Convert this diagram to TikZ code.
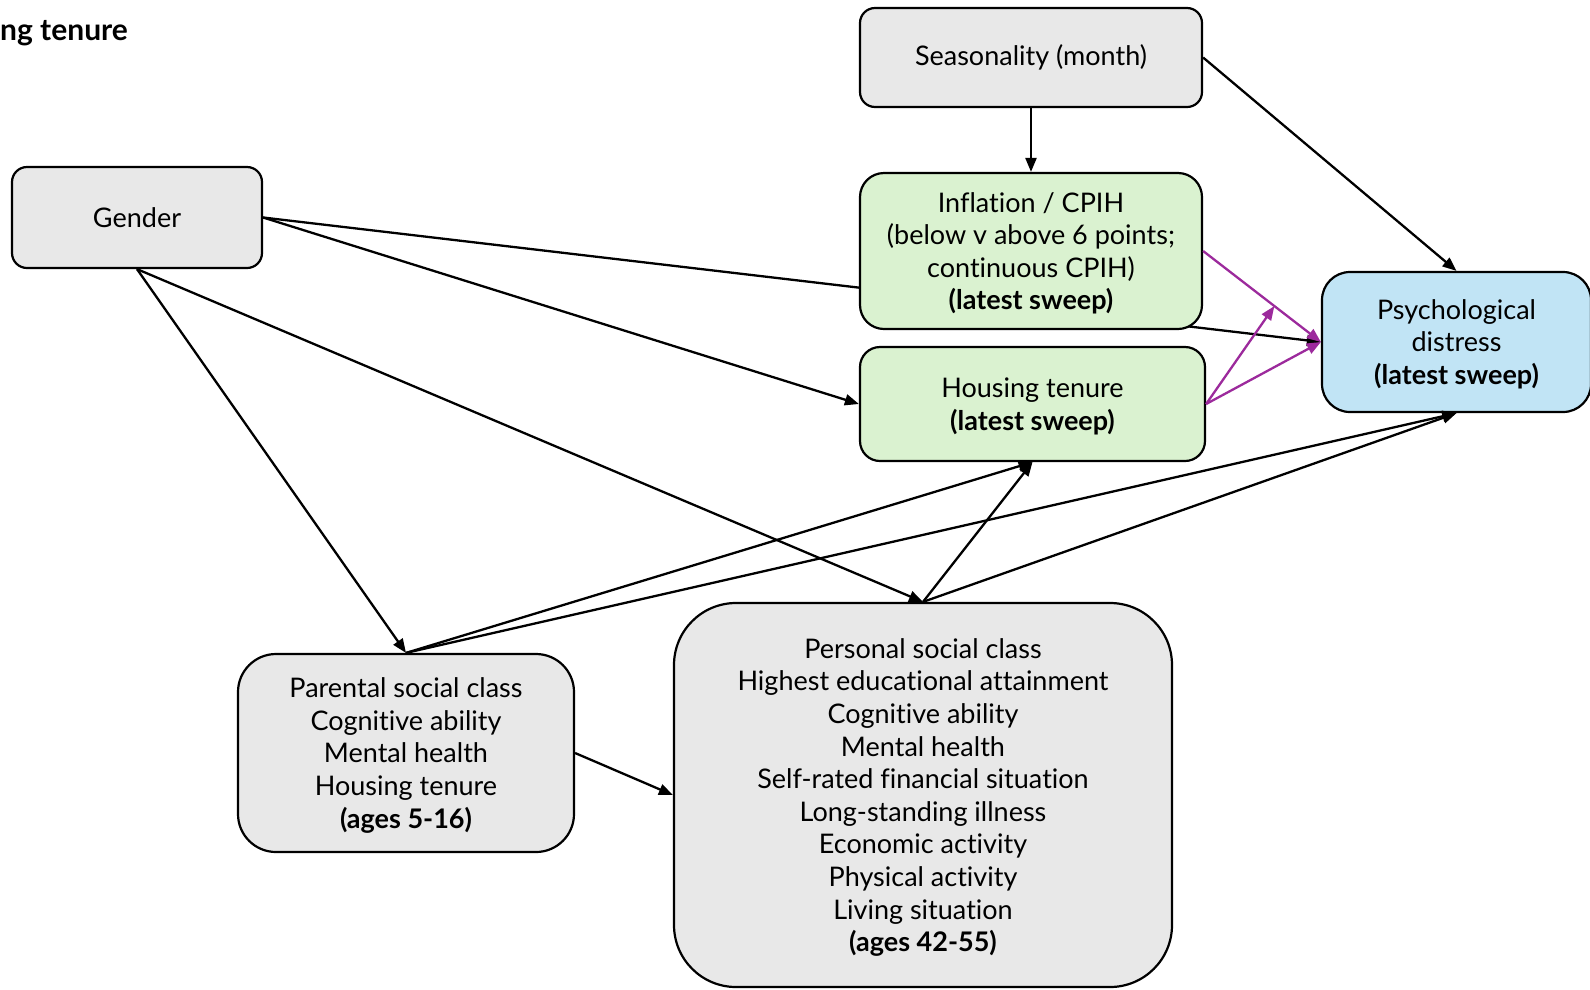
\documentclass[tikz,border=0pt]{standalone}
\usepackage{fontspec}
\setmainfont{Lato}[RawFeature={-liga}]
\usetikzlibrary{arrows.meta,calc,backgrounds}
\definecolor{boxgray}{HTML}{E8E8E8}
\definecolor{boxgreen}{HTML}{DAF2D0}
\definecolor{boxblue}{HTML}{C1E4F5}
\definecolor{modpurple}{HTML}{9C2A9C}
\begin{document}
\begin{tikzpicture}[x=1pt,y=-1pt,
  box/.style={draw=black, line width=2.2pt, align=center, inner sep=0pt,
    font=\fontsize{27}{32.6}\selectfont},
  multibox/.style={box, text depth=0pt},
  conn/.style={line width=2.3pt, -{Triangle[length=14pt,width=11pt]}},
  modconn/.style={line width=2.3pt, draw=modpurple, -{Triangle[length=14pt,width=11pt]}, modpurple}
]
\useasboundingbox (0,0) rectangle (1590,989);
\node[anchor=base west, inner sep=0pt, font=\fontsize{30}{34}\selectfont\bfseries] (title) at (0,40) {ng tenure};

\node[box, fill=boxgray, minimum width=342pt, minimum height=99pt, rounded corners=15pt] (season) at (1031,57.5) {Seasonality (month)};
\node[box, fill=boxgray, minimum width=250pt, minimum height=101pt, rounded corners=15pt] (gender) at (137,217.5) {Gender};
\node[multibox, fill=boxgreen, minimum width=342pt, minimum height=156pt, rounded corners=24pt] (infl) at (1031,251) {Inflation / CPIH\\(below v above 6 points;\\continuous CPIH)\\\textbf{(latest sweep)}};
\node[multibox, fill=boxgreen, minimum width=345pt, minimum height=114pt, rounded corners=20pt] (housing) at (1032.5,404) {Housing tenure\\\textbf{(latest sweep)}};
\node[multibox, fill=boxblue, minimum width=269pt, minimum height=140pt, rounded corners=28pt] (psych) at (1456.5,342) {Psychological\\distress\\\textbf{(latest sweep)}};
\node[multibox, fill=boxgray, minimum width=336pt, minimum height=198pt, rounded corners=38pt] (parental) at (406,753) {Parental social class\\Cognitive ability\\Mental health\\Housing tenure\\\textbf{(ages 5-16)}};
\node[multibox, fill=boxgray, minimum width=498pt, minimum height=384pt, rounded corners=62pt] (personal) at (923,795) {Personal social class\\Highest educational attainment\\Cognitive ability\\Mental health\\Self-rated financial situation\\Long-standing illness\\Economic activity\\Physical activity\\Living situation\\\textbf{(ages 42-55)}};

\begin{scope}[on background layer]
\draw[conn] (gender.east) -- (psych.west);
\end{scope}

\draw[conn] (season.south) -- (infl.north);
\draw[conn] (season.east) -- (psych.north);
\draw[conn] (gender.east) -- (housing.west);
\draw[conn] (gender.south) -- (parental.north);
\draw[conn] (gender.south) -- (personal.north);
\draw[conn] (parental.north) -- (housing.south);
\draw[conn] (parental.north) -- (psych.south);
\draw[conn] (personal.north) -- (housing.south);
\draw[conn] (personal.north) -- (psych.south);
\draw[conn] (parental.east) -- (personal.west);

\coordinate (modpt) at ($(infl.east)!0.605!(psych.west)$);
\draw[modconn] (infl.east) -- (psych.west);
\draw[modconn] (housing.east) -- (psych.west);
\draw[modconn] (housing.east) -- (modpt);
\end{tikzpicture}
\end{document}
